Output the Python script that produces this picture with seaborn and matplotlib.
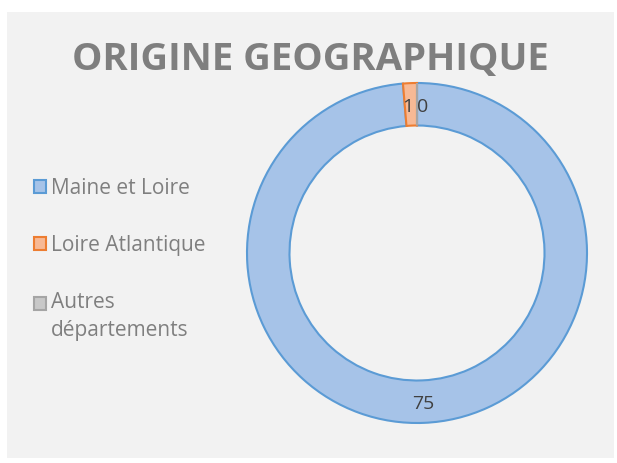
import matplotlib
matplotlib.use("Agg")
import matplotlib.pyplot as plt
import matplotlib.patches as mpatches
import numpy as np
import seaborn as sns

sns.set_theme(style="white")
plt.rcParams['font.family'] = ['Open Sans', 'DejaVu Sans']

# data
categories = ['Maine et Loire', 'Loire Atlantique', 'Autres\ndépartements']
values = [75, 1, 0]
fills = ['#a6c3e8', '#f7b995', '#c8c8c8']
edges = ['#5b9bd5', '#ed7d31', '#a5a5a5']

fig = plt.figure(figsize=(6.17, 4.63), dpi=100)
fig.patch.set_facecolor('white')
# grey chart area
fig.add_artist(mpatches.Rectangle((7 / 617, 5 / 463), 607 / 617, 446 / 463,
                                  transform=fig.transFigure, facecolor='#f2f2f2',
                                  edgecolor='none', zorder=0))

ring = 42.5 / 170
ax = fig.add_axes([247 / 617, 40 / 463, 340 / 617, 340 / 463])
ax.set_facecolor('none')
wedges, _ = ax.pie(values, startangle=90, counterclock=False, radius=1.0,
                   colors=fills,
                   wedgeprops=dict(width=ring, linewidth=1.5))
for w, ec in zip(wedges, edges):
    w.set_edgecolor(ec)
ax.set_xlim(-1, 1)
ax.set_ylim(-1, 1)
ax.set_aspect('equal')
ax.axis('off')

# value labels at middle of each ring segment
total = sum(values)
start = 90.0
rmid = 1 - 0.5 * ring
for i, v in enumerate(values):
    span = 360.0 * v / total
    mid = np.deg2rad(start - span / 2)
    # the two small slices sit side by side at the top: nudge so they read "10"
    ha, dx = 'center', 0
    if i == 1:
        ha, dx = 'right', 2
    elif i == 2:
        ha, dx = 'left', 0
    ax.annotate(str(v), (rmid * np.cos(mid), rmid * np.sin(mid)), xytext=(dx, -2),
                textcoords='offset points', ha=ha, va='center',
                fontsize=14, color='#404040')
    start -= span

fig.text(0.503, 0.87, 'ORIGINE GEOGRAPHIQUE', ha='center', va='center',
         fontsize=27.5, fontweight='bold', color='#7f7f7f')

handles = [mpatches.Patch(facecolor=f, edgecolor=e, linewidth=1.5) for f, e in zip(fills, edges)]
leg = fig.legend(handles, categories, loc='upper left', bbox_to_anchor=(0.024, 0.657),
                 frameon=False, fontsize=15, labelcolor='#7f7f7f',
                 handlelength=0.6, handleheight=0.6, handletextpad=0.25,
                 labelspacing=1.75)
for t in leg.get_texts():
    t.set_multialignment('left')
    t.set_linespacing(1.4)
# square of the two-line entry lines up with its first line
h = leg.legend_handles[2]
h.set_y(h.get_y() + 10)

fig.savefig('out.png', dpi=100)
